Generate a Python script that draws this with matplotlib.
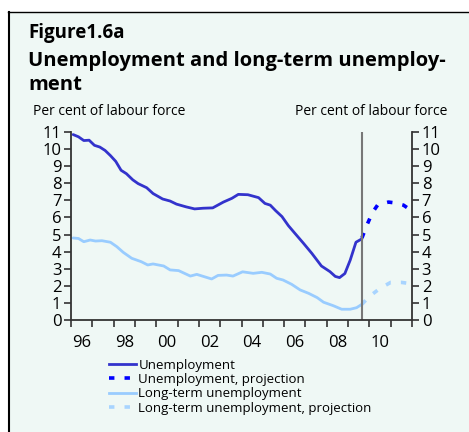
import matplotlib
matplotlib.use("Agg")
import matplotlib.pyplot as plt
from matplotlib.lines import Line2D
from matplotlib.patches import Rectangle

# Unemployment, per cent of labour force (quarterly-ish readings)
unemp_x = [1996.1, 1996.35, 1996.6, 1996.85, 1997.1, 1997.35, 1997.6, 1997.85,
           1998.1, 1998.35, 1998.6, 1998.9, 1999.15, 1999.55, 1999.85, 2000.3,
           2000.65, 2000.95, 2001.4, 2001.8, 2002.2, 2002.65, 2003.15, 2003.55,
           2003.85, 2004.3, 2004.8, 2005.1, 2005.35, 2005.6, 2005.9, 2006.2,
           2006.5, 2006.9, 2007.3, 2007.75, 2008.15, 2008.4, 2008.6, 2008.85,
           2009.1, 2009.37, 2009.65]
unemp_y = [10.85, 10.72, 10.5, 10.52, 10.22, 10.12, 9.92, 9.62,
           9.28, 8.76, 8.56, 8.2, 7.98, 7.74, 7.4, 7.08,
           6.96, 6.78, 6.62, 6.5, 6.54, 6.56, 6.9, 7.12,
           7.35, 7.33, 7.16, 6.82, 6.72, 6.4, 6.05, 5.52,
           5.08, 4.5, 3.9, 3.16, 2.83, 2.55, 2.48, 2.72,
           3.5, 4.55, 4.75]

unemp_proj_x = [2009.65, 2009.9, 2010.15, 2010.4, 2010.9, 2011.2, 2011.6, 2011.8]
unemp_proj_y = [4.8, 5.6, 6.3, 6.75, 6.9, 6.85, 6.72, 6.55]

# Long-term unemployment
lt_x = [1996.1, 1996.35, 1996.6, 1996.9, 1997.15, 1997.45, 1997.85, 1998.15,
        1998.45, 1998.85, 1999.3, 1999.6, 1999.85, 2000.35, 2000.65, 2001.05,
        2001.6, 2001.9, 2002.6, 2002.9, 2003.3, 2003.6, 2004.05, 2004.55,
        2004.95, 2005.35, 2005.65, 2005.95, 2006.35, 2006.75, 2007.15, 2007.55,
        2007.85, 2008.3, 2008.7, 2009.1, 2009.4, 2009.65]
lt_y = [4.8, 4.77, 4.58, 4.68, 4.62, 4.64, 4.55, 4.29,
        3.96, 3.61, 3.41, 3.22, 3.28, 3.16, 2.93, 2.89,
        2.57, 2.67, 2.4, 2.61, 2.63, 2.57, 2.82, 2.73,
        2.79, 2.69, 2.44, 2.34, 2.09, 1.76, 1.56, 1.31,
        1.04, 0.84, 0.63, 0.63, 0.72, 0.92]

lt_proj_x = [2009.65, 2010.0, 2010.5, 2011.0, 2011.5, 2011.8]
lt_proj_y = [0.92, 1.38, 1.85, 2.2, 2.2, 2.15]

year_labels = ["96", "98", "00", "02", "04", "06", "08", "10"]
label_years = [1996, 1998, 2000, 2002, 2004, 2006, 2008, 2010]
proj_start = 2009.65

BG = "#eff8f5"
C_UNEMP = "#3333cc"
C_UNEMP_P = "#0000ff"
C_LT = "#99ccff"
C_LT_P = "#a8d4ff"
FONT = "Open Sans"

plt.rcParams["font.family"] = [FONT, "DejaVu Sans"]

fig = plt.figure(figsize=(4.69, 4.32), dpi=100)
W, H = 469, 432

# panel background and frame lines
fig.patches.append(Rectangle((9 / W, 0), 1 - 9 / W, 1 - 12 / H, transform=fig.transFigure,
                             facecolor=BG, edgecolor="none", zorder=-5))
fig.add_artist(Line2D([8 / W, 1], [1 - 12 / H, 1 - 12 / H], color="black", lw=1.0))
fig.add_artist(Line2D([9 / W, 9 / W], [0, 1 - 12 / H], color="black", lw=1.5))

fig.text(28 / W, 1 - 38 / H, "Figure1.6a", fontsize=13.5, fontweight="bold", va="baseline")
fig.text(28 / W, 1 - 66 / H, "Unemployment and long-term unemploy-", fontsize=14.5,
         fontweight="bold", va="baseline")
fig.text(28 / W, 1 - 90 / H, "ment", fontsize=14.5, fontweight="bold", va="baseline")
fig.text(33 / W, 1 - 115 / H, "Per cent of labour force", fontsize=10, va="baseline")
fig.text(447 / W, 1 - 115 / H, "Per cent of labour force", fontsize=10, va="baseline", ha="right")

ax = fig.add_axes([71 / W, 112 / H, 341 / W, 188 / H])
ax.set_facecolor("none")

ax.plot(unemp_x, unemp_y, color=C_UNEMP, lw=2.0, solid_capstyle="round")
ax.plot(unemp_proj_x, unemp_proj_y, color=C_UNEMP_P, lw=2.6, linestyle=(0, (1.5, 2.8)))
ax.plot(lt_x, lt_y, color=C_LT, lw=2.0, solid_capstyle="round")
ax.plot(lt_proj_x, lt_proj_y, color=C_LT_P, lw=2.6, linestyle=(0, (1.5, 2.8)))
ax.axvline(proj_start, color="#777777", lw=1.5)

ax.set_xlim(1996, 2012)
ax.set_ylim(0, 11)

for s in ["left", "right", "bottom"]:
    ax.spines[s].set_color("#333333")
    ax.spines[s].set_linewidth(1.3)
ax.spines["top"].set_visible(False)

ax.set_yticks(range(0, 12))
ax.tick_params(axis="y", which="major", left=True, right=True, labelleft=True, labelright=True,
               direction="out", length=5, width=1.2, color="#333333", labelsize=12, pad=2)
ax.set_xticks(range(1996, 2013), minor=True)
ax.set_xticks([y + 0.5 for y in label_years])
ax.set_xticklabels(year_labels)
ax.tick_params(axis="x", which="major", length=0, labelsize=12, pad=11)
ax.tick_params(axis="x", which="minor", length=5, width=1.2, color="#333333", direction="out")

handles = [
    Line2D([], [], color=C_UNEMP, lw=2.0),
    Line2D([], [], color=C_UNEMP_P, lw=2.6, linestyle=(0, (1.5, 2.8))),
    Line2D([], [], color=C_LT, lw=2.0),
    Line2D([], [], color=C_LT_P, lw=2.6, linestyle=(0, (1.5, 2.8))),
]
labels = ["Unemployment", "Unemployment, projection", "Long-term unemployment",
          "Long-term unemployment, projection"]
fig.legend(handles, labels, loc="upper left", bbox_to_anchor=(102 / W, 1 - 352 / H),
           frameon=False, fontsize=9.5, handlelength=2.1, handletextpad=0.15,
           labelspacing=0.1, borderpad=0)

fig.savefig("out.png", dpi=100, facecolor="white")
